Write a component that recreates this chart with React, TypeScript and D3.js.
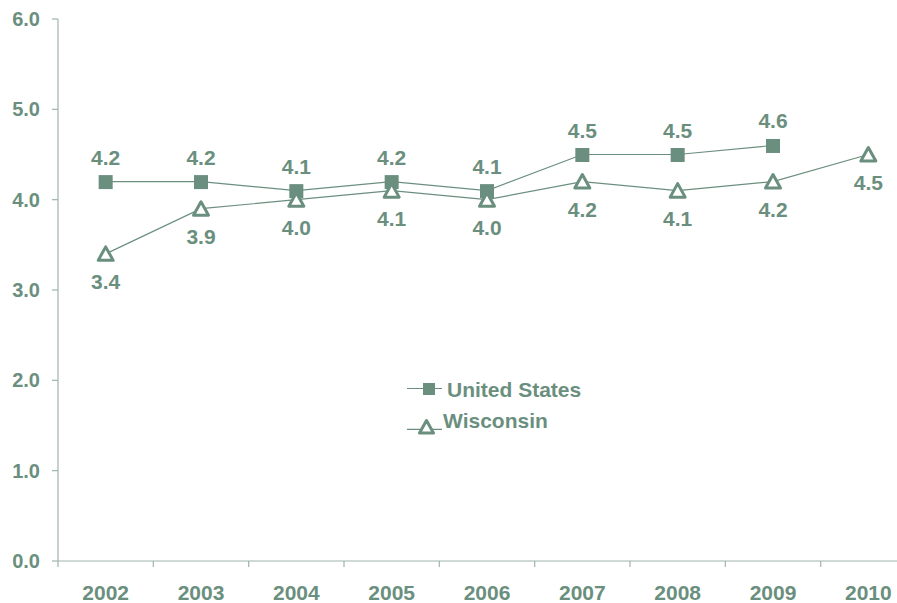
import React from "react";
import * as d3 from "d3";

const years = ["2002", "2003", "2004", "2005", "2006", "2007", "2008", "2009", "2010"];
const usValues = [4.2, 4.2, 4.1, 4.2, 4.1, 4.5, 4.5, 4.6];
const wiValues = [3.4, 3.9, 4.0, 4.1, 4.0, 4.2, 4.1, 4.2, 4.5];
const yTicks = [0, 1, 2, 3, 4, 5, 6];

const C = "#6b8f7e";
const AX = "#9fb5aa";
const FONT = "'Liberation Sans', Arial, sans-serif";

export default function App() {
  const W = 897, H = 603;
  const x = d3.scaleBand<string>().domain(years).range([58, 916]);
  const y = d3.scaleLinear().domain([0, 6]).range([561, 19]);
  const cx = (i: number) => (x(years[i]) as number) + x.bandwidth() / 2;
  const line = d3.line<number>().x((_, i) => cx(i)).y((d) => y(d));
  const tri = (px: number, py: number, s = 7.5) =>
    `M${px},${py - s}L${px + s},${py + s * 0.8}L${px - s},${py + s * 0.8}Z`;

  return (
    <svg width={W} height={H} style={{ position: "absolute", left: 0, top: 0 }} fontFamily={FONT}>
      <rect width={W} height={H} fill="#fff" />
      {/* axes */}
      <line x1={58} x2={58} y1={19} y2={561} stroke={AX} strokeWidth={1.2} />
      <line x1={58} x2={W} y1={561} y2={561} stroke={AX} strokeWidth={1.2} />
      {yTicks.map((t) => (
        <g key={t}>
          <line x1={52} x2={58} y1={y(t)} y2={y(t)} stroke={AX} strokeWidth={1.2} />
          <text x={40} y={y(t) + 7} textAnchor="end" fontSize={20} fontWeight="bold" fill={C}>
            {t.toFixed(1)}
          </text>
        </g>
      ))}
      {years.map((yr, i) => (
        <g key={yr}>
          <line x1={x(yr) as number} x2={x(yr) as number} y1={561} y2={567} stroke={AX} strokeWidth={1.2} />
          <text x={cx(i)} y={600} textAnchor="middle" fontSize={21} fontWeight="bold" fill={C}>
            {yr}
          </text>
        </g>
      ))}
      {/* lines */}
      <path d={line(usValues) || ""} fill="none" stroke={C} strokeWidth={1.2} />
      <path d={line(wiValues) || ""} fill="none" stroke={C} strokeWidth={1.2} />
      {usValues.map((v, i) => (
        <g key={"us" + i}>
          <rect x={cx(i) - 7} y={y(v) - 6.5} width={14} height={14} fill={C} />
          <text x={cx(i)} y={y(v) - 17} textAnchor="middle" fontSize={21} fontWeight="bold" fill={C}>
            {v.toFixed(1)}
          </text>
        </g>
      ))}
      {wiValues.map((v, i) => (
        <g key={"wi" + i}>
          <path d={tri(cx(i), y(v) + 0.5)} fill="#fff" stroke={C} strokeWidth={3} strokeLinejoin="round" />
          <text x={cx(i)} y={y(v) + 35} textAnchor="middle" fontSize={21} fontWeight="bold" fill={C}>
            {v.toFixed(1)}
          </text>
        </g>
      ))}
      {/* legend */}
      <line x1={407} x2={442} y1={388.5} y2={388.5} stroke={C} strokeWidth={1.2} />
      <rect x={423} y={383} width={12} height={12} fill={C} />
      <text x={447} y={397.3} fontSize={21} fontWeight="bold" fill={C}>United States</text>
      <line x1={407} x2={442} y1={429.3} y2={429.3} stroke={C} strokeWidth={1.2} />
      <path d={tri(426.5, 427.5, 7)} fill="#fff" stroke={C} strokeWidth={3} strokeLinejoin="round" />
      <text x={443} y={428.3} fontSize={21} fontWeight="bold" fill={C}>Wisconsin</text>
    </svg>
  );
}
